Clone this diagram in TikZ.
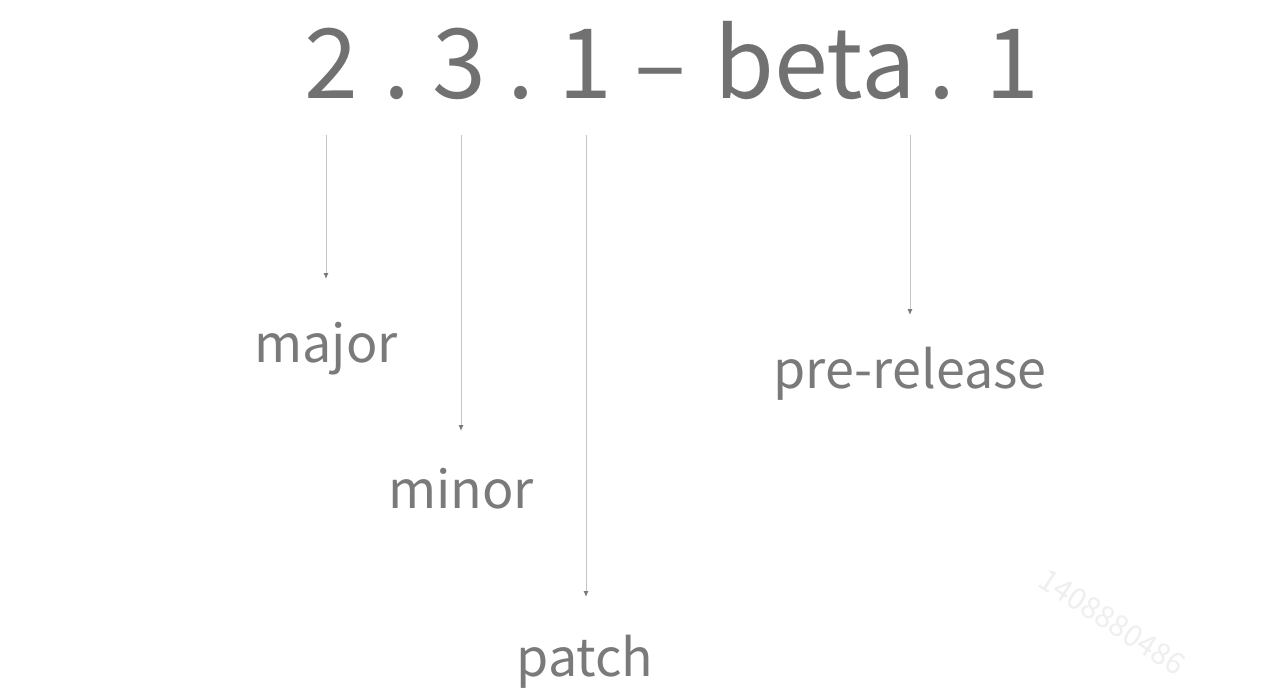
\documentclass[tikz,border=0pt]{standalone}
\usepackage{fontspec}
\setmainfont{Noto Sans CJK SC}
\usetikzlibrary{arrows.meta}
\definecolor{bigtxt}{HTML}{717171}
\definecolor{labtxt}{HTML}{7A7A7A}
\definecolor{lineg}{HTML}{C4C4C4}
\definecolor{headg}{HTML}{7A7A7A}
\definecolor{wm}{HTML}{EFEFEF}
\tikzset{
  big/.style={inner sep=0pt, anchor=base, text=bigtxt, font=\fontsize{97}{97}\selectfont},
  lab/.style={inner sep=0pt, anchor=base, text=labtxt, font=\fontsize{52}{52}\selectfont},
  arr/.style={draw=lineg, line width=1pt, -{Latex[length=6pt,width=5pt,color=headg]}},
}
\begin{document}
\begin{tikzpicture}[x=1pt,y=1pt]
\useasboundingbox[fill=white] (0,0) rectangle (1286,-696);
% version string
\node[big] (d2) at (331,-98) {2};
\node[big] (p1) at (397,-98) {.};
\node[big] (d3) at (459,-98) {3};
\node[big] (p2) at (521,-98) {.};
\node[big] (d1) at (585,-98) {1};
\node[big] (hy) at (660,-98) {–};
\node[big] (beta) at (815,-98) {beta};
\node[big] (p3) at (942,-98) {.};
\node[big] (d4) at (1012,-98) {1};
% labels
\node[lab] (major) at (326,-362) {major};
\node[lab] (minor) at (461,-508) {minor};
\node[lab] (patch) at (585,-676) {patch};
\node[lab] (pre) at (910,-388) {pre-release};
% arrow end points
\coordinate (s1) at (326,-135);
\coordinate (e1) at (326,-279);
\coordinate (s2) at (461,-135);
\coordinate (e2) at (461,-431);
\coordinate (s3) at (586,-135);
\coordinate (e3) at (586,-597);
\coordinate (s4) at (910,-135);
\coordinate (e4) at (910,-315);
\draw[arr] (s1) -- (e1);
\draw[arr] (s2) -- (e2);
\draw[arr] (s3) -- (e3);
\draw[arr] (s4) -- (e4);
% watermark
\node[inner sep=0pt, text=wm, rotate=-33, font=\fontsize{30}{30}\selectfont] (wmk) at (1112,-622) {1408880486};
\end{tikzpicture}
\end{document}
